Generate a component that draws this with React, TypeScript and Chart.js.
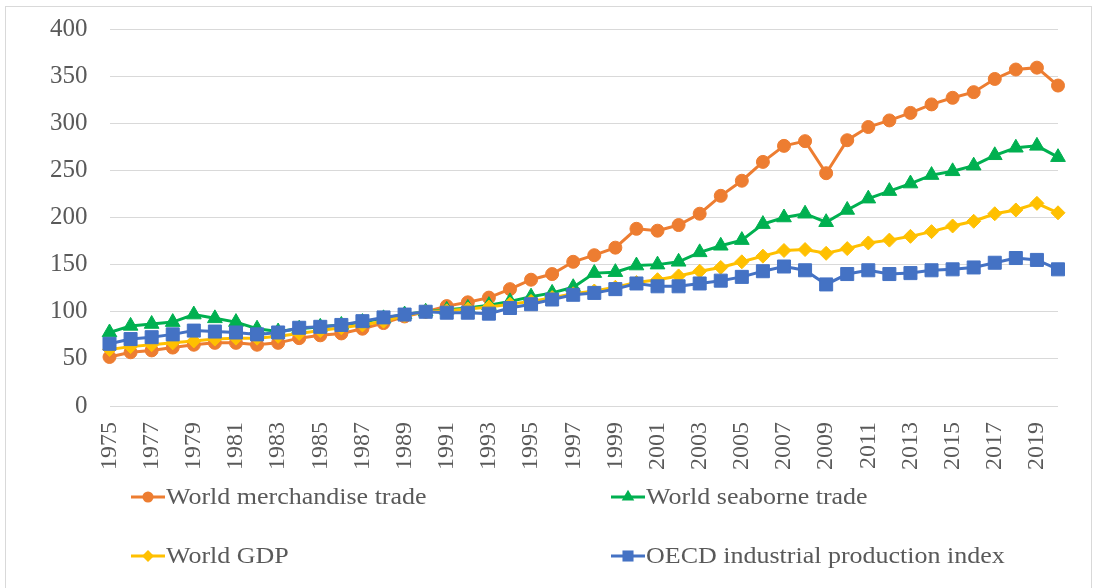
import React, { useEffect, useRef } from "react";
import { Chart, registerables } from "chart.js";

Chart.register(...registerables);

const years = [
  "1975", "1976", "1977", "1978", "1979", "1980", "1981", "1982", "1983", "1984",
  "1985", "1986", "1987", "1988", "1989", "1990", "1991", "1992", "1993", "1994",
  "1995", "1996", "1997", "1998", "1999", "2000", "2001", "2002", "2003", "2004",
  "2005", "2006", "2007", "2008", "2009", "2010", "2011", "2012", "2013", "2014",
  "2015", "2016", "2017", "2018", "2019", "2020",
];

const merchandiseTrade = [
  52, 57, 59, 62, 65, 67, 67, 65, 67, 72,
  75, 77, 82, 88, 95, 100, 106, 110, 115, 124,
  134, 140, 153, 160, 168, 188, 186, 192, 204, 223,
  239, 259, 276, 281, 247, 282, 296, 303, 311, 320,
  327, 333, 347, 357, 359, 340,
];

const seaborneTrade = [
  78, 85, 87, 89, 97, 93, 89, 82, 79, 82,
  84, 86, 89, 93, 97, 100, 102, 104, 107, 111,
  116, 120, 126, 141, 142, 149, 150, 153, 163, 170,
  176, 193, 200, 204, 195, 208, 220, 228, 236, 245,
  249, 255, 266, 274, 276, 264,
];

const worldGDP = [
  60, 63, 65, 67, 69, 71, 72, 72, 74, 77,
  80, 83, 86, 90, 96, 100, 101, 103, 105, 108,
  111, 115, 119, 122, 126, 131, 134, 138, 143, 147,
  153, 159, 165, 166, 162, 167, 173, 176, 180, 185,
  191, 196, 204, 208, 215, 205,
];

const oecdIndex = [
  66, 71, 73, 76, 80, 79, 78, 76, 78, 83,
  84, 86, 90, 94, 97, 100, 99, 99, 98, 104,
  108, 113, 118, 120, 124, 130, 127, 127, 130, 133,
  137, 143, 148, 144, 129, 140, 144, 140, 141, 144,
  145, 147, 152, 157, 155, 145,
];

const seriesLabels = [
  "World merchandise trade",
  "World seaborne trade",
  "World GDP",
  "OECD industrial production index",
];

const TEXT = "#595959";
const FONT = '"Liberation Serif", "Times New Roman", serif';

function drawMarker(ctx: CanvasRenderingContext2D, style: string, x: number, y: number, r: number, color: string) {
  ctx.fillStyle = color;
  ctx.beginPath();
  if (style === "circle") {
    ctx.arc(x, y, r, 0, Math.PI * 2);
  } else if (style === "triangle") {
    for (let k = 0; k < 3; k++) {
      const a = (k * 2 * Math.PI) / 3;
      const px = x + Math.sin(a) * r;
      const py = y - Math.cos(a) * r;
      if (k === 0) ctx.moveTo(px, py);
      else ctx.lineTo(px, py);
    }
    ctx.closePath();
  } else if (style === "rectRot") {
    ctx.moveTo(x - r, y);
    ctx.lineTo(x, y - r);
    ctx.lineTo(x + r, y);
    ctx.lineTo(x, y + r);
    ctx.closePath();
  } else {
    const s = r * Math.SQRT1_2;
    ctx.rect(x - s, y - s, 2 * s, 2 * s);
  }
  ctx.fill();
}

const legendPlugin = {
  id: "customLegend",
  afterDraw(chart: any) {
    const ctx: CanvasRenderingContext2D = chart.ctx;
    const pos = [
      [148, 497],
      [628, 497],
      [148, 556],
      [628, 556],
    ];
    chart.data.datasets.forEach((ds: any, i: number) => {
      const [cx, cy] = pos[i];
      ctx.save();
      ctx.strokeStyle = ds.borderColor;
      ctx.lineWidth = 3;
      ctx.beginPath();
      ctx.moveTo(cx - 17, cy);
      ctx.lineTo(cx + 17, cy);
      ctx.stroke();
      drawMarker(ctx, ds.pointStyle, cx, cy, ds.pointRadius * 0.85, ds.backgroundColor);
      ctx.fillStyle = TEXT;
      ctx.font = `23px ${FONT}`;
      ctx.textBaseline = "middle";
      ctx.textAlign = "left";
      ctx.translate(cx + 18, cy + 1);
      ctx.scale(1.13, 1);
      ctx.fillText(ds.label, 0, 0);
      ctx.restore();
    });
  },
};

export default function App() {
  const canvasRef = useRef<HTMLCanvasElement | null>(null);

  useEffect(() => {
    if (!canvasRef.current) return;
    const mk = (label: string, data: number[], color: string, style: string, radius: number, order: number) => ({
      label,
      data,
      borderColor: color,
      backgroundColor: color,
      pointBackgroundColor: color,
      pointBorderColor: color,
      pointBorderWidth: 1,
      pointStyle: style,
      pointRadius: radius,
      borderWidth: 3,
      tension: 0,
      order,
    });
    const chart = new Chart(canvasRef.current, {
      type: "line",
      data: {
        labels: years,
        datasets: [
          mk(seriesLabels[0], merchandiseTrade, "#ED7D31", "circle", 6.5, 3),
          mk(seriesLabels[1], seaborneTrade, "#00B050", "triangle", 8.5, 2),
          mk(seriesLabels[2], worldGDP, "#FFC000", "rectRot", 7, 1),
          mk(seriesLabels[3], oecdIndex, "#4472C4", "rect", 9.2, 0),
        ],
      },
      options: {
        animation: false,
        responsive: false,
        layout: { padding: { left: 28, right: 38, top: 29, bottom: 102 } },
        plugins: {
          legend: { display: false },
          tooltip: { enabled: false },
        },
        scales: {
          x: {
            offset: false,
            grid: { display: false, drawTicks: false },
            border: { display: false },
            afterFit: (scale: any) => {
              scale.paddingLeft = 0;
              scale.paddingRight = 0;
            },
            ticks: {
              autoSkip: false,
              maxRotation: 90,
              minRotation: 90,
              padding: 16,
              color: TEXT,
              font: { family: FONT, size: 24 },
              callback: (_v: any, i: number) => (i % 2 === 0 ? years[i] : ""),
            },
          },
          y: {
            min: 0,
            max: 400,
            grid: { color: "#d9d9d9", lineWidth: 1, drawTicks: false },
            border: { display: false },
            afterFit: (scale: any) => {
              scale.paddingTop = 0;
              scale.paddingBottom = 0;
            },
            ticks: {
              stepSize: 50,
              padding: 22,
              color: TEXT,
              font: { family: FONT, size: 25 },
            },
          },
        },
      },
      plugins: [legendPlugin],
    });
    return () => chart.destroy();
  }, []);

  return (
    <div style={{ position: "fixed", left: 0, top: 0, width: 1096, height: 588, background: "#fff", overflow: "hidden" }}>
      <div
        style={{
          position: "absolute",
          left: 5,
          top: 6,
          width: 1087,
          height: 600,
          border: "1px solid #d9d9d9",
          boxSizing: "border-box",
        }}
      />
      <canvas ref={canvasRef} width={1096} height={588} style={{ position: "absolute", left: 0, top: 0 }} />
    </div>
  );
}
